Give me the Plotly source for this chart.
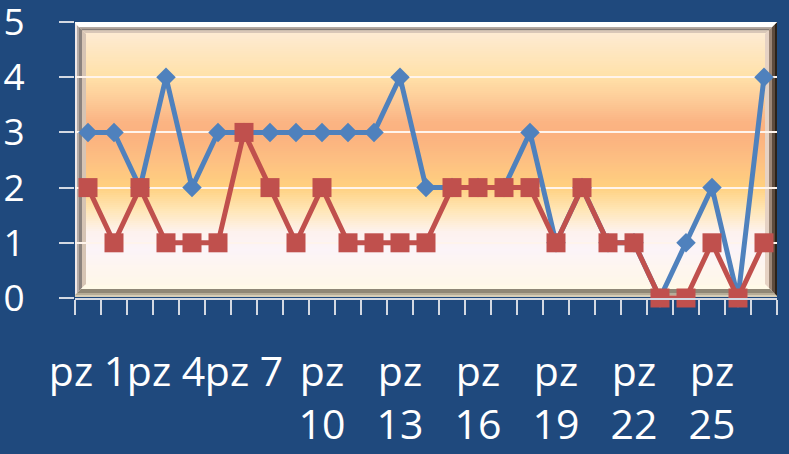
import plotly.graph_objects as go

# ---- data -------------------------------------------------------------
categories = [f"pz {i}" for i in range(1, 28)]
serie_1 = [3, 3, 2, 4, 2, 3, 3, 3, 3, 3, 3, 3, 4, 2, 2, 2, 2, 3, 1, 2, 1, 1, 0, 1, 2, 0, 4]
serie_2 = [2, 1, 2, 1, 1, 1, 3, 2, 1, 2, 1, 1, 1, 1, 2, 2, 2, 2, 1, 2, 1, 1, 0, 0, 1, 0, 1]
shown_every = 3
y_ticks = [0, 1, 2, 3, 4, 5]

# ---- geometry helpers (pixel -> data) -----------------------------------
W, H = 789, 454
L, R, T, B = 75, 12, 22, 156
plot_w = W - L - R
plot_h = H - T - B
n = len(categories)
y_max = 5


def px_x(p):
    return -0.5 + (p - L) * n / plot_w


def px_y(p):
    return (T + plot_h - p) * y_max / plot_h


def hex_to_rgb(h):
    h = h.lstrip("#")
    return tuple(int(h[i:i + 2], 16) for i in (0, 2, 4))


def lerp(c1, c2, t):
    a, b = hex_to_rgb(c1), hex_to_rgb(c2)
    return "rgb(%d,%d,%d)" % tuple(round(a[i] + (b[i] - a[i]) * t) for i in range(3))


shapes = []

# outer frame of the plot area (pixels)
fx0, fx1, fy0, fy1 = 73, 778, 21, 297

# vertical colour gradient inside the frame: (pixel row, colour)
grad = [
    (21, "#FDEEDD"), (40, "#FEE9CC"), (77, "#FFE1A8"), (100, "#FDCB98"),
    (122, "#FBB483"), (135, "#FBB17F"), (160, "#FDBF82"), (187, "#FFD07F"),
    (210, "#FFE6B6"), (232, "#FDF2EE"), (250, "#FCF4F8"), (270, "#FEF6EE"),
    (297, "#FFF8E4"),
]
step = 2
row = fy0
while row < fy1:
    mid = row + step / 2
    for (p0, c0), (p1, c1) in zip(grad[:-1], grad[1:]):
        if p0 <= mid <= p1:
            col = lerp(c0, c1, (mid - p0) / (p1 - p0))
            break
    shapes.append(dict(type="rect", xref="x", yref="y", layer="below",
                       x0=px_x(fx0), x1=px_x(fx1), y0=px_y(row), y1=px_y(min(row + step + 0.6, fy1)),
                       fillcolor=col, line=dict(width=0)))
    row += step

# bevelled edge: bands per side as (inset start, inset end, colour)
bevel = {
    "top": [(0, 6, "#FFFFFF"), (6, 7.5, "#B4AAA4"), (7.5, 9.5, "#857C78"), (9.5, 12, "#D9C7B8")],
    "left": [(0, 4, "#EFE7E6"), (4, 6, "#B5ABA6"), (6, 9, "#8C837E"), (9, 13, "#D6C4B4")],
    "bottom": [(0, 2, "#D6CDB6"), (2, 4, "#B6AD98"), (4, 8, "#8F8776"), (8, 12, "#FFFAE8")],
    "right": [(0, 3, "#2C2218"), (3, 6, "#5E4C3E"), (6, 9, "#9C8676"), (9, 13, "#E6D2C4")],
}


def band(side, a, b):
    if side == "top":
        pts = [(fx0 + a, fy0 + a), (fx1 - a, fy0 + a), (fx1 - b, fy0 + b), (fx0 + b, fy0 + b)]
    elif side == "bottom":
        pts = [(fx0 + a, fy1 - a), (fx1 - a, fy1 - a), (fx1 - b, fy1 - b), (fx0 + b, fy1 - b)]
    elif side == "left":
        pts = [(fx0 + a, fy0 + a), (fx0 + b, fy0 + b), (fx0 + b, fy1 - b), (fx0 + a, fy1 - a)]
    else:
        pts = [(fx1 - a, fy0 + a), (fx1 - b, fy0 + b), (fx1 - b, fy1 - b), (fx1 - a, fy1 - a)]
    return "M " + " L ".join(f"{px_x(x):.4f},{px_y(y):.4f}" for x, y in pts) + " Z"


for side in ("left", "bottom", "right", "top"):
    for a, b, col in bevel[side]:
        shapes.append(dict(type="path", xref="x", yref="y", layer="below",
                           path=band(side, a, b), fillcolor=col, line=dict(width=0)))

# ---- figure -------------------------------------------------------------
fig = go.Figure()
fig.add_trace(go.Scatter(
    x=categories, y=serie_1, mode="lines+markers", name="Serie 1",
    line=dict(color="#4F81BD", width=5),
    marker=dict(symbol="diamond", size=15, color="#4F81BD"),
    hoverinfo="skip", cliponaxis=False,
))
fig.add_trace(go.Scatter(
    x=categories, y=serie_2, mode="lines+markers", name="Serie 2",
    line=dict(color="#C0504D", width=5),
    marker=dict(symbol="square", size=19, color="#C0504D"),
    hoverinfo="skip", cliponaxis=False,
))

tick_text = []
for i, c in enumerate(categories):
    if i % shown_every == 0:
        tick_text.append(c if i < 9 else c.replace(" ", "<br>"))
    else:
        tick_text.append("")

axis_col = "#D3D9E3"
fig.update_layout(
    width=W, height=H,
    margin=dict(l=L, r=R, t=T, b=B, pad=0, autoexpand=False),
    paper_bgcolor="#1F497D",
    plot_bgcolor="rgba(0,0,0,0)",
    showlegend=False,
    shapes=shapes,
    font=dict(family="Open Sans", color="white"),
    xaxis=dict(
        type="category", categoryorder="array", categoryarray=categories,
        range=[-0.5, n - 0.5], automargin=False,
        tickmode="array", tickvals=categories, ticktext=tick_text,
        tickson="boundaries", ticks="outside", ticklen=15, tickwidth=1.5, tickcolor=axis_col,
        showline=True, linecolor=axis_col, linewidth=1.5,
        showgrid=False, zeroline=False,
        tickangle=0, tickfont=dict(size=41, color="white"),
        ticklabelstandoff=37, ticklabeloverflow="allow",
    ),
    yaxis=dict(
        range=[0, y_max], tickmode="array", tickvals=y_ticks, automargin=False,
        ticks="outside", ticklen=15, tickwidth=1.5, tickcolor=axis_col,
        showgrid=True, gridcolor="#FFF4EC", gridwidth=1.5,
        showline=False, zeroline=False,
        tickfont=dict(size=37, color="white"),
        ticklabelstandoff=27, ticklabeloverflow="allow",
    ),
)

fig.write_html("out.html")
